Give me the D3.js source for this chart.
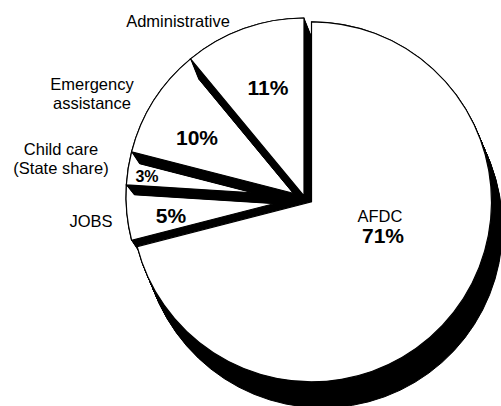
<!DOCTYPE html>
<html>
<head>
<meta charset="utf-8">
<script src="https://cdn.jsdelivr.net/npm/d3@7"></script>
<style>
  html, body { margin: 0; background: #fff; }
  svg { display: block; }
  text { font-family: "Liberation Sans", Arial, Helvetica, sans-serif; fill: #000; }
</style>
</head>
<body>
<svg id="chart" width="501" height="406"></svg>
<script>
// data, in drawing order (clockwise from 12 o'clock)
const categories = ['AFDC', 'JOBS', 'Child care (State share)', 'Emergency assistance', 'Administrative']
const nameLines = [['AFDC'], ['JOBS'], ['Child care', '(State share)'], ['Emergency', 'assistance'], ['Administrative']]
const shares = [71, 5, 3, 10, 11]
const pctLabels = ['71%', '5%', '3%', '10%', '11%']

// layout
const center = [304, 196]
const explode = [9.5, 0, 0, 0, 0]
const radius = [180, 178, 178, 178, 178]
const depth = [[11, 26], [8, 12], [8, 10], [8, 12], [8, 20]]
const namePos = [[380, 222], [91, 227], [61, 155], [92, 90], [178, 27]]
const pctPos = [[383, 243], [171, 223], [147, 182], [197, 145], [268, 95]]
const pctSize = [21, 21, 16, 21, 21]
const nameSize = 16.5
const lineGap = 19

const svg = d3.select('svg#chart')

const pie = d3.pie().sort(null).value(d => d)
const arcs = pie(shares)

const steps = d3.range(0, 1.0001, 1 / 24)

const slices = arcs.map((d, i) => {
  const mid = (d.startAngle + d.endAngle) / 2
  return {
    d,
    i,
    arc: d3.arc().innerRadius(0).outerRadius(radius[i]),
    cx: center[0] + explode[i] * Math.sin(mid),
    cy: center[1] - explode[i] * Math.cos(mid)
  }
})

// extruded black side of a slice
function side (s) {
  svg.append('g')
    .selectAll('path')
    .data(steps)
    .join('path')
    .attr('transform', t => `translate(${s.cx + t * depth[s.i][0]},${s.cy + t * depth[s.i][1]})`)
    .attr('d', s.arc(s.d))
    .attr('fill', '#000')
    .attr('stroke', '#000')
    .attr('stroke-width', 1)
}

// white face of a slice
function face (s) {
  svg.append('path')
    .attr('transform', `translate(${s.cx},${s.cy})`)
    .attr('d', s.arc(s.d))
    .attr('fill', '#fff')
    .attr('stroke', '#000')
    .attr('stroke-width', 1.2)
}

// the big slice sits under everything, its face goes on top
side(slices[0])
slices.slice(1).forEach(s => {
  side(s)
  face(s)
})
face(slices[0])

// names, one text per line
nameLines.forEach((lines, i) => {
  lines.forEach((line, j) => {
    svg.append('text')
      .attr('x', namePos[i][0])
      .attr('y', namePos[i][1] + j * lineGap)
      .attr('text-anchor', 'middle')
      .attr('font-size', nameSize)
      .text(line)
  })
})

// percentages
pctLabels.forEach((p, i) => {
  svg.append('text')
    .attr('x', pctPos[i][0])
    .attr('y', pctPos[i][1])
    .attr('text-anchor', 'middle')
    .attr('font-size', pctSize[i])
    .attr('font-weight', 'bold')
    .text(p)
})
</script>
</body>
</html>
